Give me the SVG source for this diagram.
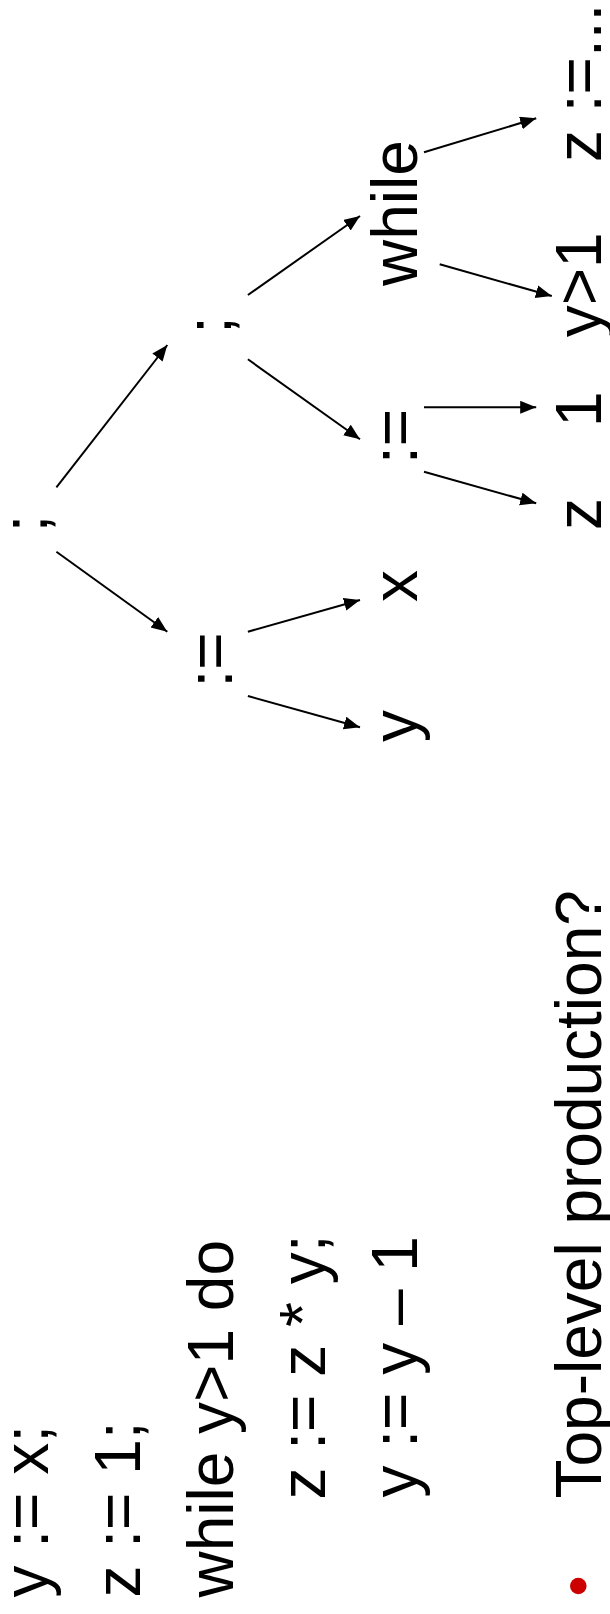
<svg xmlns="http://www.w3.org/2000/svg" width="610" height="1614" viewBox="0 0 610 1614">
<style>
.t{font-family:"Liberation Sans",Arial,sans-serif;font-size:64px;fill:#000}
.c line{stroke:#000;stroke-width:2;fill:none}
</style>
<defs>
<marker id="ah" markerUnits="userSpaceOnUse" markerWidth="18" markerHeight="14" refX="16" refY="6.5" orient="auto">
<path d="M0,0 L16,6.5 L0,13 Z" fill="#000"/>
</marker>
</defs>
<rect width="610" height="1614" fill="#fff"/>
<g id="program">
<text class="t" transform="translate(48,1597.5) rotate(-90)">y := x;</text>
<text class="t" transform="translate(140,1597.5) rotate(-90)">z := 1;</text>
<text class="t" transform="translate(233,1597.5) rotate(-90)">while y&gt;1 do</text>
<text class="t" transform="translate(325,1499.5) rotate(-90)">z := z * y;</text>
<text class="t" transform="translate(417,1497.5) rotate(-90)">y := y – 1</text>
</g>
<g id="question">
<circle cx="578.3" cy="1586" r="8.3" fill="#cc0000"/>
<text class="t" transform="translate(600.7,1498.5) rotate(-90)">Top-level production?</text>
</g>
<g id="n-root"><text class="t" transform="translate(47,532.5) rotate(-90)">;</text></g>
<g id="n-seq2"><text class="t" transform="translate(231,334) rotate(-90)">;</text></g>
<g id="n-assign1"><text class="t" transform="translate(231.7,687.6) rotate(-90)">:=</text></g>
<g id="n-while"><text class="t" transform="translate(417,286) rotate(-90)">while</text></g>
<g id="n-assign2"><text class="t" transform="translate(417,464) rotate(-90)">:=</text></g>
<g id="n-x"><text class="t" transform="translate(417,602) rotate(-90)">x</text></g>
<g id="n-y"><text class="t" transform="translate(417,742) rotate(-90)">y</text></g>
<g id="n-body"><text class="t" transform="translate(601,162) rotate(-90)">z :=...</text></g>
<g id="n-cond"><text class="t" transform="translate(600.5,337.3) rotate(-90)">y&gt;1</text></g>
<g id="n-one"><text class="t" transform="translate(600.5,427) rotate(-90)">1</text></g>
<g id="n-z"><text class="t" transform="translate(600.5,530) rotate(-90)">z</text></g>
<g id="connectors" class="c">
<line x1="56.4" y1="487.3" x2="167.3" y2="345" marker-end="url(#ah)"/>
<line x1="56.4" y1="551.7" x2="167.3" y2="631.7" marker-end="url(#ah)"/>
<line x1="247.9" y1="295" x2="360" y2="216" marker-end="url(#ah)"/>
<line x1="247.9" y1="359.3" x2="360" y2="439.3" marker-end="url(#ah)"/>
<line x1="247.9" y1="631.7" x2="360" y2="600" marker-end="url(#ah)"/>
<line x1="247.9" y1="696" x2="360" y2="727.3" marker-end="url(#ah)"/>
<line x1="424" y1="152.3" x2="536.2" y2="118.3" marker-end="url(#ah)"/>
<line x1="439.7" y1="264.3" x2="551.8" y2="296" marker-end="url(#ah)"/>
<line x1="424" y1="407.3" x2="536.2" y2="407.3" marker-end="url(#ah)"/>
<line x1="424" y1="471.7" x2="536.2" y2="503.3" marker-end="url(#ah)"/>
</g>
</svg>
